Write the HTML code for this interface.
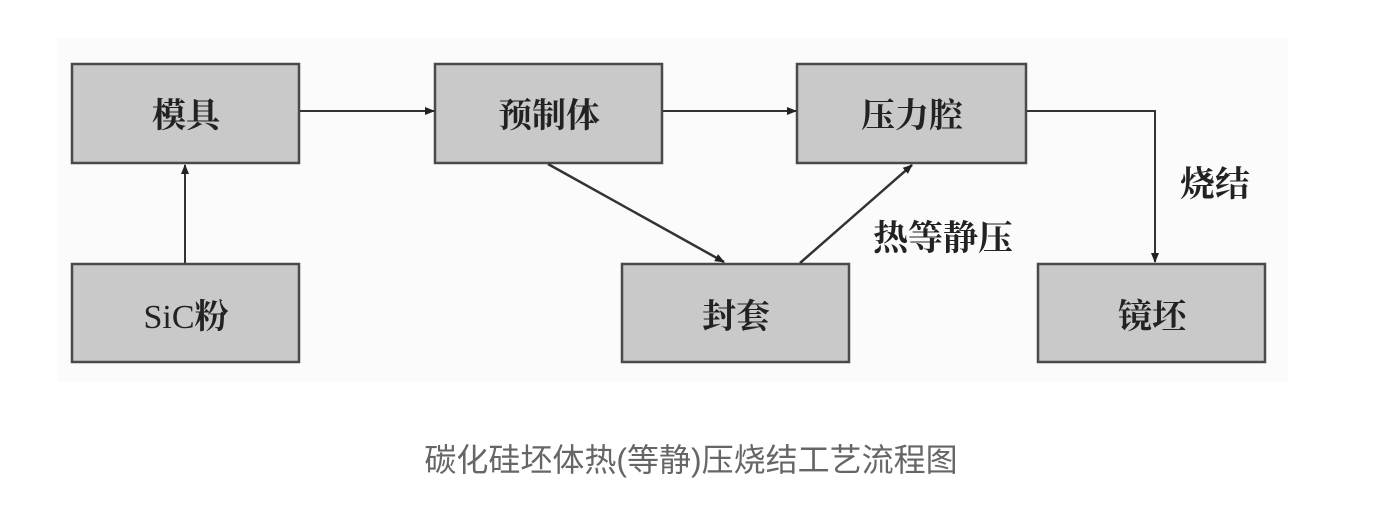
<!DOCTYPE html>
<html><head><meta charset="utf-8"><style>
html,body{margin:0;padding:0;background:#fff;width:1395px;height:512px;overflow:hidden}
</style></head><body>
<svg width="1395" height="512" xmlns="http://www.w3.org/2000/svg">
<defs>
<marker id="a" markerWidth="10" markerHeight="10" refX="9" refY="5" orient="auto" markerUnits="userSpaceOnUse">
<path d="M0,1 L10,5 L0,9 z" fill="#222"/></marker>
</defs>
<rect x="58" y="38" width="1230" height="344" fill="#fbfbfb"/>
<g fill="#c9c9c9" stroke="#4a4a4a" stroke-width="2.5">
<rect x="72" y="64" width="227" height="99"/>
<rect x="72" y="264" width="227" height="98"/>
<rect x="435" y="64" width="227" height="99"/>
<rect x="622" y="264" width="227" height="98"/>
<rect x="797" y="64" width="229" height="99"/>
<rect x="1038" y="264" width="227" height="98"/>
</g>
<g stroke="#333" stroke-width="2" fill="none" marker-end="url(#a)">
<line x1="300" y1="111" x2="434" y2="111"/>
<line x1="663" y1="111" x2="796" y2="111"/>
<line x1="185" y1="263" x2="185" y2="165"/>
<line x1="548" y1="164" x2="724" y2="262" stroke-width="2.5"/>
<line x1="800" y1="263" x2="912" y2="165" stroke-width="2.5"/>
<polyline points="1027,111 1155,111 1155,262"/>
</g>
<g font-family="'Liberation Serif','Noto Serif CJK SC',serif" font-size="34" font-weight="bold" fill="#222" text-anchor="middle">
<text x="186" y="127">模具</text>
<text x="186" y="328" font-weight="normal">SiC<tspan font-weight="bold">粉</tspan></text>
<text x="549" y="127">预制体</text>
<text x="736" y="328">封套</text>
<text x="912" y="127">压力腔</text>
<text x="1152" y="328">镜坯</text>
<text x="1215" y="196" font-size="35">烧结</text>
<text x="943" y="250" font-size="35">热等静压</text>
</g>
<text x="691" y="471" font-family="'Liberation Sans','Noto Sans CJK SC',sans-serif" font-size="32" fill="#666" text-anchor="middle">碳化硅坯体热(等静)压烧结工艺流程图</text>
</svg>
</body></html>
